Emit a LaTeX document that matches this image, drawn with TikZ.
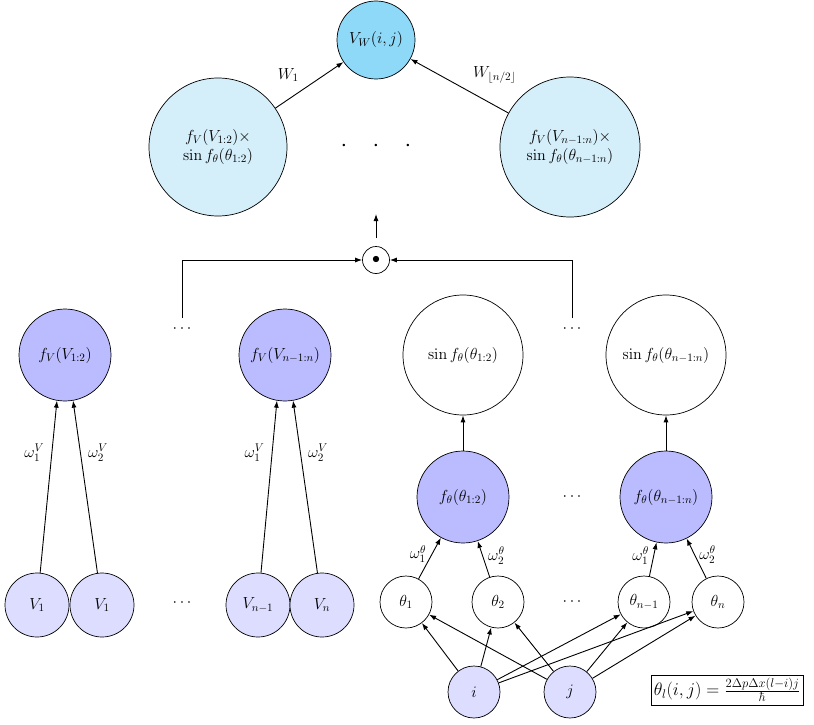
\documentclass[tikz,border=0pt]{standalone}
\usepackage{fix-cm}
\usepackage{tikz}
\usetikzlibrary{positioning}
\definecolor{topblue}{HTML}{8ED8F8}
\definecolor{paleblue}{HTML}{D4EEFA}
\definecolor{midviolet}{HTML}{BBBBFF}
\definecolor{paleviolet}{HTML}{DDDDFF}
\tikzset{
  neuron/.style={circle, draw, line width=0.7pt, inner sep=0pt},
  conn/.style={-{Latex[length=7pt,width=5pt]}, line width=0.9pt},
}
\usetikzlibrary{arrows.meta}
\begin{document}
\begin{tikzpicture}[x=1pt, y=-1pt, font=\fontsize{16}{19}\selectfont]
        \useasboundingbox (0,0) rectangle (814,725);
        %Output
        \node [neuron, fill=topblue, minimum size=78] (vw) at (376,40) {$V_W(i,j)$};
        \node [neuron, fill=paleblue, minimum size=138, align=center] (p1) at (218,147) {$f_V(V_{1:2})\times$\\$\sin f_\theta(\theta_{1:2})$};
        \node [neuron, fill=paleblue, minimum size=140, align=center] (pn) at (570,147) {$f_V(V_{n-1:n})\times$\\$\sin f_\theta(\theta_{n-1:n})$};
        \node [font=\fontsize{24}{24}\selectfont] (dtop) at (376,146) {$\cdot\hspace{20pt}\cdot\hspace{20pt}\cdot$};
        \draw [conn] (p1) -- node [above left=4pt and 0pt, pos=0.4] {$W_1$} (vw);
        \draw [conn] (pn) -- node [above right=4pt and 0pt, pos=0.4] {$W_{\lfloor n/2\rfloor}$} (vw);
        %Product
        \node [neuron, minimum size=27] (prod) at (376,260) {$\bullet$};
        \coordinate (up) at (376,214);
        \draw [conn] (prod.north) ++(0,-8) -- (up);
        \coordinate (ll) at (182,318);
        \coordinate (rr) at (572,318);
        \draw [conn] (ll) |- (prod);
        \draw [conn] (rr) |- (prod);
        %Value branch
        \node [neuron, fill=midviolet, minimum size=92] (fv1) at (65,355) {$f_V(V_{1:2})$};
        \node [neuron, fill=midviolet, minimum size=92] (fvn) at (285,355) {$f_V(V_{n-1:n})$};
        \node at (182,329) {$\cdots$};
        \node [neuron, fill=paleviolet, minimum size=64] (v1) at (37,605) {$V_1$};
        \node [neuron, fill=paleviolet, minimum size=64] (v2) at (102,605) {$V_1$};
        \node at (182,603) {$\cdots$};
        \node [neuron, fill=paleviolet, minimum size=64] (vm) at (258,605) {$V_{n-1}$};
        \node [neuron, fill=paleviolet, minimum size=64] (vn) at (322,605) {$V_n$};
        \draw [conn] (v1) -- node [left=4pt, pos=0.7] {$\omega^V_1$} (fv1.-100);
        \draw [conn] (v2) -- node [right=4pt, pos=0.7] {$\omega^V_2$} (fv1.-80);
        \draw [conn] (vm) -- node [left=4pt, pos=0.7] {$\omega^V_1$} (fvn.-100);
        \draw [conn] (vn) -- node [right=4pt, pos=0.7] {$\omega^V_2$} (fvn.-80);
        %Angle branch
        \node [neuron, minimum size=120] (s1) at (463,355) {$\sin f_\theta(\theta_{1:2})$};
        \node [neuron, minimum size=120] (sn) at (666,355) {$\sin f_\theta(\theta_{n-1:n})$};
        \node at (572,329) {$\cdots$};
        \node [neuron, fill=midviolet, minimum size=92] (ft1) at (463,497) {$f_\theta(\theta_{1:2})$};
        \node [neuron, fill=midviolet, minimum size=92] (ftn) at (666,497) {$f_\theta(\theta_{n-1:n})$};
        \node at (572,497) {$\cdots$};
        \draw [conn] (ft1) -- (s1);
        \draw [conn] (ftn) -- (sn);
        \node [neuron, minimum size=52] (t1) at (406,602) {$\theta_1$};
        \node [neuron, minimum size=52] (t2) at (498,602) {$\theta_2$};
        \node at (572,602) {$\cdots$};
        \node [neuron, minimum size=52] (tm) at (644,602) {$\theta_{n-1}$};
        \node [neuron, minimum size=52] (tn) at (718,602) {$\theta_n$};
        \draw [conn] (t1) -- node [left=2pt, pos=0.6] {$\omega^\theta_1$} (ft1);
        \draw [conn] (t2) -- node [right=2pt, pos=0.6] {$\omega^\theta_2$} (ft1);
        \draw [conn] (tm) -- node [left=1pt, pos=0.6] {$\omega^\theta_1$} (ftn);
        \draw [conn] (tn) -- node [right=1pt, pos=0.6] {$\omega^\theta_2$} (ftn);
        %Inputs
        \node [neuron, fill=paleviolet, minimum size=52] (i) at (474,692) {$i$};
        \node [neuron, fill=paleviolet, minimum size=52] (j) at (570,692) {$j$};
        \foreach \t in {t1,t2,tm,tn} {
          \draw [conn] (i) -- (\t);
          \draw [conn] (j) -- (\t);
        }
        \node [draw, line width=0.7pt, inner sep=3pt, font=\fontsize{18}{20}\selectfont] (eq) at (727,690) {$\theta_l(i,j)=\frac{2\Delta p\Delta x(l-i)j}{\hbar}$};
      \end{tikzpicture}
\end{document}
